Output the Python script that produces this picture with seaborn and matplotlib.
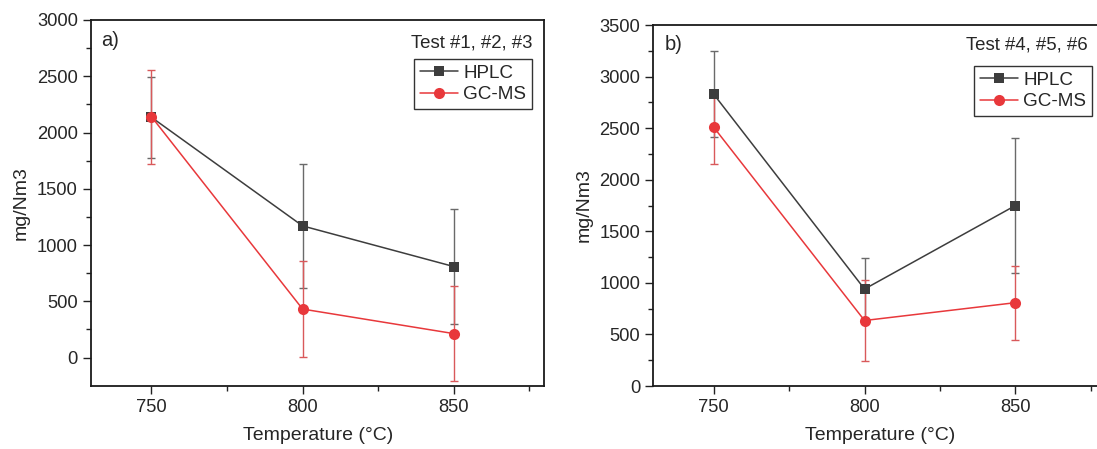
import numpy as np
import pandas as pd
import matplotlib
matplotlib.use("Agg")
import matplotlib.pyplot as plt
import seaborn as sns

# temperatures and measured concentrations (mg/Nm3), mean and error
temps = [750, 800, 850]

a_hplc = [2135, 1170, 809]
a_hplc_err = [360, 550, 507]
a_gcms = [2140, 431, 213]
a_gcms_err = [418, 426, 424]

b_hplc = [2830, 940, 1750]
b_hplc_err = [420, 300, 657]
b_gcms = [2510, 635, 808]
b_gcms_err = [360, 392, 359]

methods = ["HPLC", "GC-MS"]
panel_labels = ["a)", "b)"]
test_labels = ["Test #1, #2, #3", "Test #4, #5, #6"]

sns.set_style("ticks")
plt.rcParams["font.family"] = ["Liberation Sans", "DejaVu Sans"]

line_cols = {"HPLC": "#3d3d3d", "GC-MS": "#e8383b"}
err_cols = {"HPLC": "#6a6a6a", "GC-MS": "#d9595b"}
marks = {"HPLC": "s", "GC-MS": "o"}
msizes = {"HPLC": 7.2, "GC-MS": 8.0}

fig = plt.figure(figsize=(10.97, 4.49), dpi=100)
ax1 = fig.add_axes([0.0830, 0.1410, 0.4132, 0.8145])
ax2 = fig.add_axes([0.5955, 0.1403, 0.4127, 0.8040])

panels = [
    (ax1, {"HPLC": (a_hplc, a_hplc_err), "GC-MS": (a_gcms, a_gcms_err)}),
    (ax2, {"HPLC": (b_hplc, b_hplc_err), "GC-MS": (b_gcms, b_gcms_err)}),
]

for i, (ax, data) in enumerate(panels):
    for m in methods:
        vals, errs = data[m]
        ax.errorbar(temps, vals, yerr=errs, fmt="none", ecolor=err_cols[m],
                    elinewidth=1.0, capsize=3.2, capthick=1.0, zorder=1)
    for m in methods:
        vals, errs = data[m]
        df = pd.DataFrame({"Temperature": temps, "conc": vals})
        sns.lineplot(data=df, x="Temperature", y="conc", ax=ax, color=line_cols[m],
                     marker=marks[m], markersize=msizes[m], markeredgewidth=0,
                     linewidth=1.1, label=m, zorder=3)

    ax.set_xlim(730, 880)
    ax.set_xticks([750, 800, 850])
    ax.set_xticks([775, 825, 875], minor=True)
    if i == 0:
        ax.set_ylim(-250, 3000)
        ax.set_yticks(np.arange(0, 3001, 500))
        ax.set_yticks(np.arange(250, 3000, 500), minor=True)
    else:
        ax.set_ylim(0, 3500)
        ax.set_yticks(np.arange(0, 3501, 500))
        ax.set_yticks(np.arange(250, 3500, 500), minor=True)

    ax.set_xlabel("Temperature (°C)", fontsize=14, labelpad=8)
    ax.set_ylabel("mg/Nm3", fontsize=14, labelpad=5)
    ax.tick_params(axis="both", which="major", labelsize=13.2, length=5.5, width=1.0,
                   direction="out", color="#222222", pad=4)
    ax.tick_params(axis="both", which="minor", length=3.5, width=1.0,
                   direction="out", color="#222222")
    for s in ax.spines.values():
        s.set_visible(True)
        s.set_linewidth(1.3)
        s.set_color("#1a1a1a")

    ax.text(0.022 if i == 0 else 0.025, 0.945, panel_labels[i], transform=ax.transAxes,
            fontsize=14.5, ha="left", va="center")
    ax.text(0.975 if i == 0 else 0.960, 0.937 if i == 0 else 0.945, test_labels[i],
            transform=ax.transAxes, fontsize=13.4, ha="right", va="center")

    handles, labels = ax.get_legend_handles_labels()
    anchor = (0.973, 0.893) if i == 0 else (0.969, 0.886)
    leg = ax.legend(handles, labels, loc="upper right", bbox_to_anchor=anchor,
                    borderaxespad=0, fontsize=13.6, handlelength=2.0,
                    handletextpad=0.3, borderpad=0.3, labelspacing=0.22,
                    fancybox=False, framealpha=1, edgecolor="#333333")
    leg.get_frame().set_linewidth(1.0)

fig.savefig("out.png", dpi=100)
